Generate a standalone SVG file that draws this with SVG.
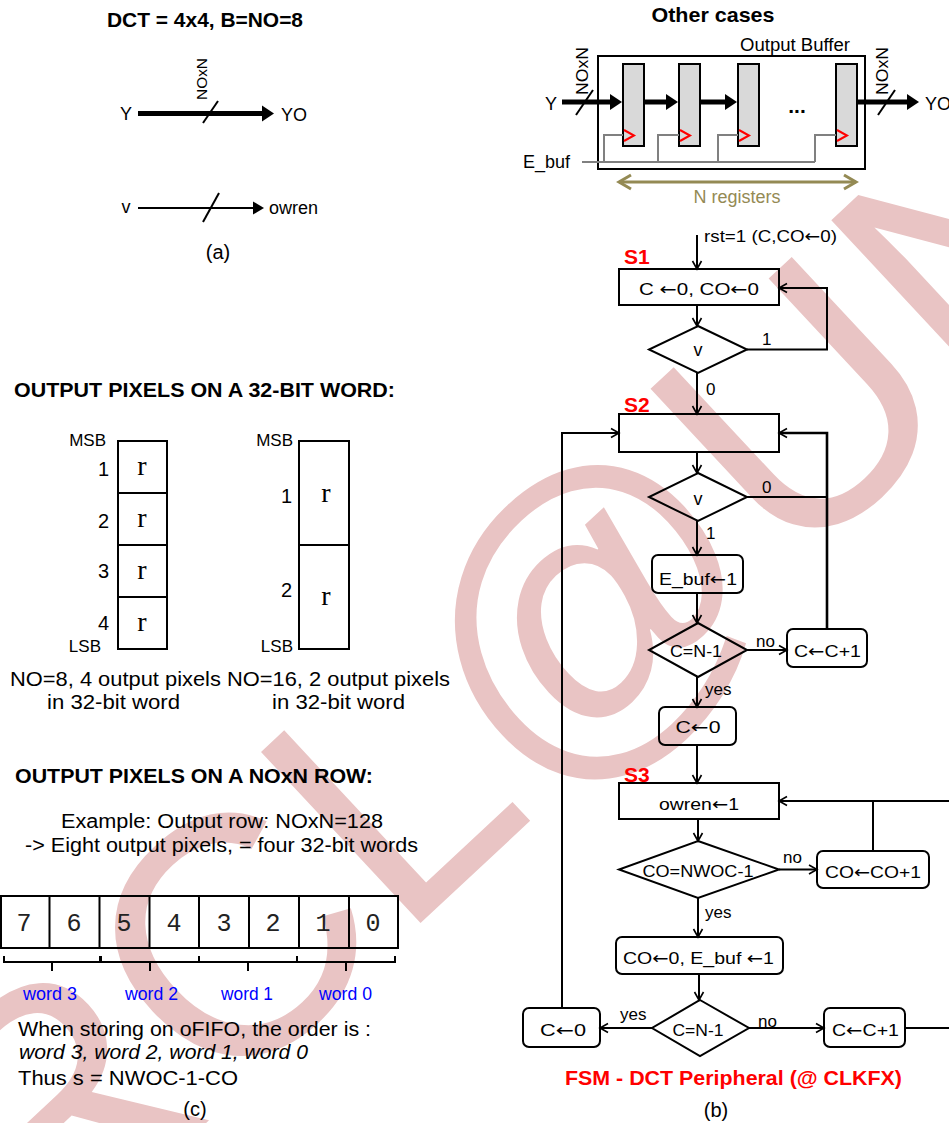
<svg xmlns="http://www.w3.org/2000/svg" width="949" height="1123" viewBox="0 0 949 1123">
<style>
text{font-family:"Liberation Sans",Arial,Helvetica,sans-serif;fill:#000}
.b{font-weight:bold}
.m{font-family:"Liberation Mono","Courier New",monospace}
.sr{font-family:"Liberation Serif","Times New Roman",serif;font-size:28px}
.ar{font-family:"DejaVu Sans",sans-serif}
.c{text-anchor:middle}
.e{text-anchor:end}
.s14{font-size:14px}.s16{font-size:16px}.s17{font-size:17px}.s18{font-size:18px}.s20{font-size:20px}.s21{font-size:21px}
.red{fill:#ff0000}
.blue{fill:#0000ff}
.ln{fill:none;stroke:#000;stroke-width:2}
.box{fill:none;stroke:#000;stroke-width:2}
.reg{fill:#d9d9d9;stroke:#000;stroke-width:2}
.gr{fill:none;stroke:#808080;stroke-width:2}
.clk{fill:none;stroke:#ff0000;stroke-width:2}
.thick{fill:none;stroke:#000;stroke-width:5}
.wm{font-family:"Liberation Sans",Arial,sans-serif;font-size:340px;fill:#e9c4c4}
</style>
<defs>
<marker id="fa" markerUnits="userSpaceOnUse" markerWidth="13" markerHeight="17" refX="1" refY="8" orient="auto" overflow="visible"><path d="M0,0 L12,8 L0,16 z" fill="#000"/></marker>
<marker id="fs" markerUnits="userSpaceOnUse" markerWidth="12" markerHeight="14" refX="1" refY="6.5" orient="auto" overflow="visible"><path d="M0,0 L11,6.5 L0,13 z" fill="#000"/></marker>
<marker id="oa" markerUnits="userSpaceOnUse" markerWidth="10" markerHeight="10" refX="8" refY="4.5" orient="auto" overflow="visible"><path d="M0,0 L8,4.5 L0,9" fill="none" stroke="#000" stroke-width="1.6"/></marker>
<marker id="ol" markerUnits="userSpaceOnUse" markerWidth="14" markerHeight="16" refX="13" refY="8" orient="auto-start-reverse" overflow="visible"><path d="M1,1 L13,8 L1,15" fill="none" stroke="#948a54" stroke-width="3"/></marker>
</defs>

<g id="watermark">
<text class="wm" x="41" y="1277" transform="rotate(-43 41 1277)">RCL@UNM</text>
</g>

<!-- (a) -->
<g id="part-a">
<text class="b s21 c" x="205" y="27" textLength="196" lengthAdjust="spacingAndGlyphs">DCT = 4x4, B=NO=8</text>
<text class="s14" x="0" y="0" transform="translate(207 100) rotate(-90)" textLength="42" lengthAdjust="spacingAndGlyphs">NOxN</text>
<text class="s18 c" x="126" y="120">Y</text>
<line class="thick" x1="138" y1="113.5" x2="263" y2="113.5" marker-end="url(#fa)"/>
<line class="ln" x1="203" y1="123" x2="218" y2="101"/>
<text class="s18" x="281" y="121">YO</text>
<text class="s18 c" x="126" y="213">v</text>
<line class="ln" x1="138" y1="208" x2="254" y2="208" marker-end="url(#fs)"/>
<line class="ln" x1="203" y1="222" x2="219" y2="193"/>
<text class="s18" x="269" y="214">owren</text>
<text class="s20 c" x="218" y="259">(a)</text>
</g>

<!-- Other cases: output buffer -->
<g id="output-buffer">
<text class="b s21 c" x="713" y="22" textLength="123" lengthAdjust="spacingAndGlyphs">Other cases</text>
<text class="s18" x="740" y="51" textLength="110" lengthAdjust="spacingAndGlyphs">Output Buffer</text>
<rect class="box" x="598" y="56" width="267" height="113"/>
<rect class="reg" x="623" y="64" width="21" height="82"/>
<rect class="reg" x="679" y="64" width="21" height="82"/>
<rect class="reg" x="738" y="64" width="21" height="82"/>
<rect class="reg" x="836" y="64" width="21" height="82"/>
<text class="b s21 c" x="797" y="113">...</text>
<text class="s18 c" x="551" y="110">Y</text>
<text class="s17" x="0" y="0" transform="translate(588 95) rotate(-90)" textLength="48" lengthAdjust="spacingAndGlyphs">NOxN</text>
<text class="s17" x="0" y="0" transform="translate(888 95) rotate(-90)" textLength="48" lengthAdjust="spacingAndGlyphs">NOxN</text>
<line class="thick" x1="562" y1="102" x2="611" y2="102" marker-end="url(#fa)"/>
<line class="thick" x1="644" y1="102" x2="667" y2="102" marker-end="url(#fa)"/>
<line class="thick" x1="700" y1="102" x2="726" y2="102" marker-end="url(#fa)"/>
<line class="thick" x1="857" y1="102" x2="908" y2="102" marker-end="url(#fa)"/>
<line class="ln" x1="576" y1="115" x2="593" y2="90"/>
<line class="ln" x1="878" y1="115" x2="895" y2="90"/>
<text class="s18" x="925" y="110">YO</text>
<polyline class="clk" points="624,130 634,135.5 624,141"/>
<polyline class="clk" points="680,130 690,135.5 680,141"/>
<polyline class="clk" points="739,130 749,135.5 739,141"/>
<polyline class="clk" points="837,130 847,135.5 837,141"/>
<text class="s18" x="523" y="168" textLength="47" lengthAdjust="spacingAndGlyphs">E_buf</text>
<path class="gr" d="M582,162 H815 M604,162 V135 H623 M658,162 V135 H679 M718,162 V135 H738 M815,162 V135 H836"/>
<line x1="619" y1="182" x2="856" y2="182" stroke="#948a54" stroke-width="3" marker-start="url(#ol)" marker-end="url(#ol)"/>
<text class="s18 c" x="737" y="203" style="fill:#948a54" textLength="87" lengthAdjust="spacingAndGlyphs">N registers</text>
</g>

<!-- FSM nodes -->
<g id="fsm-labels">
<text class="s17" x="704" y="242" textLength="133" lengthAdjust="spacingAndGlyphs">rst=1 (C,CO<tspan class="ar">←</tspan>0)</text>
<text class="b s21 red" x="624" y="264">S1</text>
<text class="b s21 red" x="624" y="412">S2</text>
<text class="b s21 red" x="624" y="782">S3</text>
</g>
<g id="s1-box"><rect class="box" x="619" y="269" width="160" height="36"/><text class="s17 c" x="699" y="295" textLength="120" lengthAdjust="spacingAndGlyphs">C <tspan class="ar">←</tspan>0, CO<tspan class="ar">←</tspan>0</text></g>
<g id="s1-v"><polygon class="box" points="698,326 747,349.5 698,373 649,349.5"/><text class="s18 c" x="698" y="356">v</text></g>
<g id="s2-box"><rect class="box" x="619" y="414" width="160" height="38"/></g>
<g id="s2-v"><polygon class="box" points="698,473 747,497 698,521 649,497"/><text class="s18 c" x="698" y="505">v</text></g>
<g id="ebuf1"><rect class="box" x="652" y="555" width="91" height="38" rx="6"/><text class="s17 c" x="698" y="585" textLength="78" lengthAdjust="spacingAndGlyphs">E_buf<tspan class="ar">←</tspan>1</text></g>
<g id="cn1"><polygon class="box" points="698,623 747,650 698,677 649,650"/><text class="s17 c" x="696" y="657" textLength="52" lengthAdjust="spacingAndGlyphs">C=N-1</text></g>
<g id="cinc1"><rect class="box" x="787" y="629" width="80" height="38" rx="6"/><text class="s17 c" x="827.5" y="657" textLength="67" lengthAdjust="spacingAndGlyphs">C<tspan class="ar">←</tspan>C+1</text></g>
<g id="c0a"><rect class="box" x="659" y="707" width="77" height="38" rx="6"/><text class="s17 c" x="698" y="733" textLength="45" lengthAdjust="spacingAndGlyphs">C<tspan class="ar">←</tspan>0</text></g>
<g id="s3-box"><rect class="box" x="619" y="783" width="160" height="36"/><text class="s17 c" x="699" y="810" textLength="80" lengthAdjust="spacingAndGlyphs">owren<tspan class="ar">←</tspan>1</text></g>
<g id="co-cmp"><polygon class="box" points="698,841 779,869.5 698,898 619,869.5"/><text class="s17 c" x="698" y="877" textLength="111" lengthAdjust="spacingAndGlyphs">CO=NWOC-1</text></g>
<g id="coinc"><rect class="box" x="817" y="851" width="112" height="37" rx="6"/><text class="s17 c" x="873" y="878" textLength="96" lengthAdjust="spacingAndGlyphs">CO<tspan class="ar">←</tspan>CO+1</text></g>
<g id="co0"><rect class="box" x="616" y="937" width="167" height="37" rx="6"/><text class="s17 c" x="698.5" y="964" textLength="151" lengthAdjust="spacingAndGlyphs">CO<tspan class="ar">←</tspan>0, E_buf <tspan class="ar">←</tspan>1</text></g>
<g id="cn2"><polygon class="box" points="700,1000 749,1028 700,1056 652,1028"/><text class="s17 c" x="698" y="1036" textLength="51" lengthAdjust="spacingAndGlyphs">C=N-1</text></g>
<g id="c0b"><rect class="box" x="523" y="1008" width="77" height="39" rx="6"/><text class="s17 c" x="563" y="1036" textLength="46" lengthAdjust="spacingAndGlyphs">C<tspan class="ar">←</tspan>0</text></g>
<g id="cinc2"><rect class="box" x="824" y="1008" width="81" height="39" rx="6"/><text class="s17 c" x="865.5" y="1036" textLength="67" lengthAdjust="spacingAndGlyphs">C<tspan class="ar">←</tspan>C+1</text></g>

<!-- connectors -->
<g id="connectors">
<line class="ln" x1="697" y1="235" x2="697" y2="269" marker-end="url(#oa)"/>
<line class="ln" x1="697" y1="305" x2="697" y2="326" marker-end="url(#oa)"/>
<path class="ln" d="M747,349.5 H827 V288 H779" marker-end="url(#oa)"/>
<line class="ln" x1="697" y1="373" x2="697" y2="414" marker-end="url(#oa)"/>
<path class="ln" d="M562,1008 V433 H619" marker-end="url(#oa)"/>
<path class="ln" style="stroke-width:2.6" d="M827,629 V433 H779" marker-end="url(#oa)"/>
<line class="ln" x1="747" y1="497" x2="827" y2="497"/>
<line class="ln" x1="697" y1="452" x2="697" y2="473" marker-end="url(#oa)"/>
<line class="ln" x1="697" y1="521" x2="697" y2="555" marker-end="url(#oa)"/>
<line class="ln" x1="697" y1="593" x2="697" y2="623" marker-end="url(#oa)"/>
<line class="ln" x1="747" y1="650" x2="787" y2="650" marker-end="url(#oa)"/>
<line class="ln" x1="697" y1="677" x2="697" y2="707" marker-end="url(#oa)"/>
<line class="ln" x1="697" y1="745" x2="697" y2="783" marker-end="url(#oa)"/>
<line class="ln" x1="698" y1="819" x2="698" y2="841" marker-end="url(#oa)"/>
<line class="ln" x1="779" y1="869.5" x2="817" y2="869.5" marker-end="url(#oa)"/>
<path class="ln" d="M905,1028 H960 V801 H779" marker-end="url(#oa)"/>
<line class="ln" x1="873" y1="851" x2="873" y2="801"/>
<line class="ln" x1="698" y1="898" x2="698" y2="937" marker-end="url(#oa)"/>
<line class="ln" x1="699" y1="974" x2="699" y2="1000" marker-end="url(#oa)"/>
<line class="ln" x1="652" y1="1028" x2="600" y2="1028" marker-end="url(#oa)"/>
<line class="ln" x1="749" y1="1028" x2="824" y2="1028" marker-end="url(#oa)"/>
<text class="s17" x="762" y="345">1</text>
<text class="s17" x="706" y="395">0</text>
<text class="s17" x="762" y="493">0</text>
<text class="s17" x="706" y="539">1</text>
<text class="s17" x="756" y="647">no</text>
<text class="s17" x="705" y="695">yes</text>
<text class="s17" x="783" y="863">no</text>
<text class="s17" x="705" y="918">yes</text>
<text class="s17" x="620" y="1020">yes</text>
<text class="s17" x="758" y="1027">no</text>
</g>
<text class="b s21 red c" x="733.5" y="1085" textLength="337" lengthAdjust="spacingAndGlyphs">FSM - DCT Peripheral (@ CLKFX)</text>
<text class="s20 c" x="716" y="1117">(b)</text>

<!-- 32-bit word -->
<g id="word32">
<text class="b s20" x="14" y="397" textLength="381" lengthAdjust="spacingAndGlyphs">OUTPUT PIXELS ON A 32-BIT WORD:</text>
<rect class="box" x="118" y="441" width="49" height="208"/>
<line class="ln" x1="118" y1="493" x2="167" y2="493"/>
<line class="ln" x1="118" y1="545" x2="167" y2="545"/>
<line class="ln" x1="118" y1="597" x2="167" y2="597"/>
<text class="sr c" x="142" y="475">r</text>
<text class="sr c" x="142" y="527">r</text>
<text class="sr c" x="142" y="579">r</text>
<text class="sr c" x="142" y="631">r</text>
<text class="s20 e" x="109" y="476">1</text>
<text class="s20 e" x="109" y="528">2</text>
<text class="s20 e" x="109" y="578">3</text>
<text class="s20 e" x="109" y="630">4</text>
<text class="s17 e" x="106" y="446">MSB</text>
<text class="s17 e" x="101" y="652">LSB</text>
<rect class="box" x="299" y="441" width="50" height="208"/>
<line class="ln" x1="299" y1="545" x2="349" y2="545"/>
<text class="sr c" x="326" y="502">r</text>
<text class="sr c" x="326" y="605">r</text>
<text class="s20 e" x="292" y="503">1</text>
<text class="s20 e" x="292" y="597">2</text>
<text class="s17 e" x="293" y="446">MSB</text>
<text class="s17 e" x="293" y="652">LSB</text>
<text class="s20" x="10" y="686" textLength="440" lengthAdjust="spacingAndGlyphs">NO=8, 4 output pixels NO=16, 2 output pixels</text>
<text class="s20" x="47" y="709" textLength="133" lengthAdjust="spacingAndGlyphs">in 32-bit word</text>
<text class="s20" x="272" y="709" textLength="133" lengthAdjust="spacingAndGlyphs">in 32-bit word</text>
</g>

<!-- NOxN row -->
<g id="row">
<text class="b s20" x="15" y="783" textLength="358" lengthAdjust="spacingAndGlyphs">OUTPUT PIXELS ON A NOxN ROW:</text>
<text class="s20" x="61" y="828" textLength="322" lengthAdjust="spacingAndGlyphs">Example: Output row: NOxN=128</text>
<text class="s20" x="25" y="852" textLength="393" lengthAdjust="spacingAndGlyphs">-&gt; Eight output pixels, = four 32-bit words</text>
<rect class="box" x="1" y="896" width="397" height="52"/>
<path class="ln" d="M49.5,896 V948 M99.5,896 V948 M149.5,896 V948 M199,896 V948 M249,896 V948 M299,896 V948 M349,896 V948"/>
<text class="m c" style="font-size:25px;fill:#222" x="24" y="931">7</text>
<text class="m c" style="font-size:25px;fill:#222" x="74" y="931">6</text>
<text class="m c" style="font-size:25px;fill:#222" x="124" y="931">5</text>
<text class="m c" style="font-size:25px;fill:#222" x="174" y="931">4</text>
<text class="m c" style="font-size:25px;fill:#222" x="224" y="931">3</text>
<text class="m c" style="font-size:25px;fill:#222" x="273" y="931">2</text>
<text class="m c" style="font-size:25px;fill:#222" x="323" y="931">1</text>
<text class="m c" style="font-size:25px;fill:#222" x="373" y="931">0</text>
<path class="ln" d="M4,956 V962 H100 V956 M52,962 V971 M101,956 V962 H199 V956 M150,962 V971 M199,956 V962 H297 V956 M248,962 V971 M297,956 V962 H395 V956 M346,962 V971"/>
<text class="s18 blue" x="23" y="1000" textLength="54" lengthAdjust="spacingAndGlyphs">word 3</text>
<text class="s18 blue" x="125" y="1000" textLength="53" lengthAdjust="spacingAndGlyphs">word 2</text>
<text class="s18 blue" x="221" y="1000" textLength="52" lengthAdjust="spacingAndGlyphs">word 1</text>
<text class="s18 blue" x="319" y="1000" textLength="53" lengthAdjust="spacingAndGlyphs">word 0</text>
<text class="s20" x="18" y="1036" textLength="353" lengthAdjust="spacingAndGlyphs">When storing on oFIFO, the order is :</text>
<text class="s20" font-style="italic" x="19" y="1059" textLength="289" lengthAdjust="spacingAndGlyphs">word 3, word 2, word 1, word 0</text>
<text class="s20" x="18" y="1085" textLength="220" lengthAdjust="spacingAndGlyphs">Thus s = NWOC-1-CO</text>
<text class="s20 c" x="195" y="1116">(c)</text>
</g>
</svg>
